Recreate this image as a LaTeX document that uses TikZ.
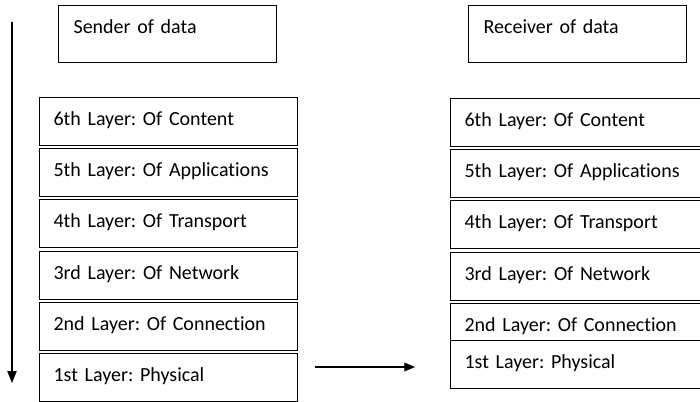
\documentclass[tikz,border=0pt]{standalone}
\usepackage{fontspec}
\setmainfont{Carlito}[Ligatures=NoCommon]
\usepackage{tikz}
\usetikzlibrary{arrows.meta}
\frenchspacing

\begin{document}
\begin{tikzpicture}[
  x=0.75pt, y=-0.75pt,
  layerbox/.style={draw, fill=white, line width=0.9pt, anchor=north west, align=left, text width=172.5pt, inner xsep=10.5pt, inner ysep=0pt, text height=21pt, text depth=15pt, font=\fontsize{15}{18}\selectfont},
  hostbox/.style={layerbox, text width=141pt, inner xsep=11.25pt, text depth=21.75pt}
]
  \useasboundingbox (0,0) rectangle (700,401);
  \clip (0,0) rectangle (700,401);

  \node[hostbox] (sender) at (58,5) {Sender of data};
  \node[layerbox] (s6) at (39,97) {6th Layer: Of Content};
  \node[layerbox] (s5) at (39,148) {5th Layer: Of Applications};
  \node[layerbox] (s4) at (39,199) {4th Layer: Of Transport};
  \node[layerbox] (s3) at (39,251) {3rd Layer: Of Network};
  \node[layerbox] (s2) at (39,302) {2nd Layer: Of Connection};
  \node[layerbox] (s1) at (39,353) {1st Layer: Physical};

  \node[hostbox] (receiver) at (468,5) {Receiver of data};
  \node[layerbox] (r6) at (450,98) {6th Layer: Of Content};
  \node[layerbox] (r5) at (450,149) {5th Layer: Of Applications};
  \node[layerbox] (r4) at (450,200) {4th Layer: Of Transport};
  \node[layerbox] (r3) at (450,252) {3rd Layer: Of Network};
  \node[layerbox] (r2) at (450,303) {2nd Layer: Of Connection};
  \node[layerbox] (r1) at (450,340) {1st Layer: Physical};

  \coordinate (flowtop) at (12,22);
  \coordinate (flowend) at (12,383);
  \coordinate (linkout) at (315,367);
  \coordinate (linkin) at (415,367);
  \draw[-{Triangle[length=9pt, width=7pt]}, line width=0.9pt] (flowtop) -- (flowend);
  \draw[-{Triangle[length=8pt, width=6.5pt]}, line width=0.9pt] (linkout) -- (linkin);
\end{tikzpicture}
\end{document}
